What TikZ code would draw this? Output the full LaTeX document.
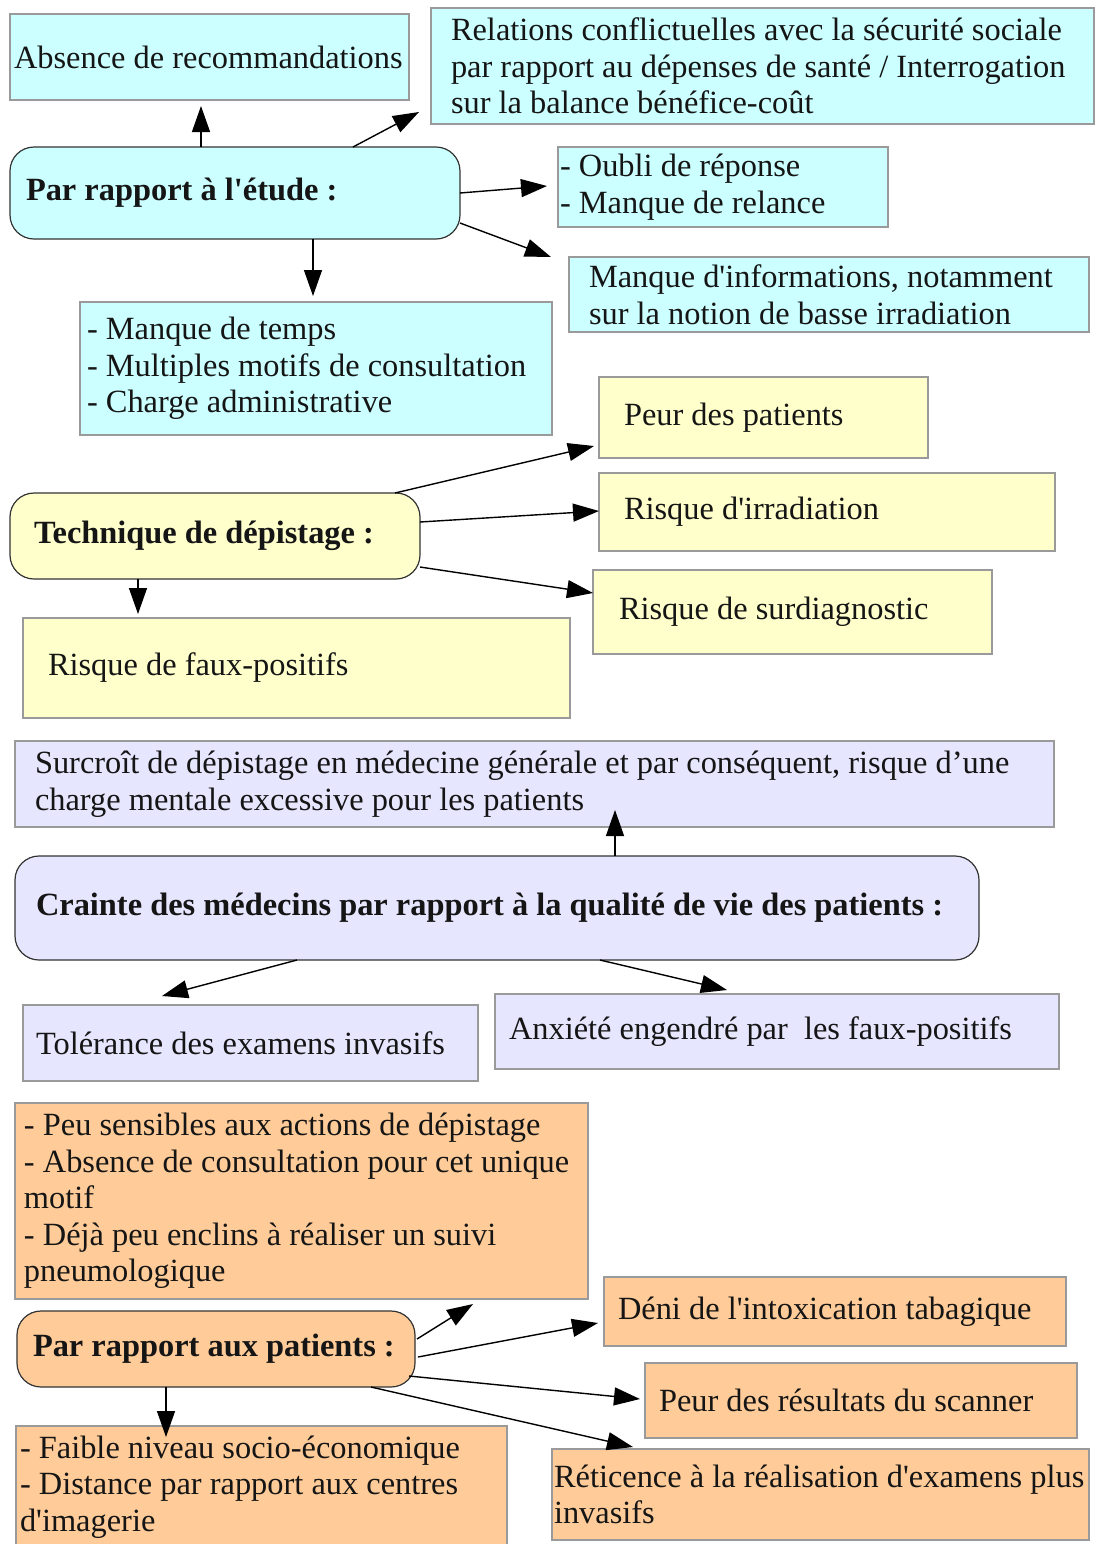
\documentclass[tikz,border=0pt]{standalone}
\usepackage{fontspec}
\setmainfont{Liberation Serif}[Ligatures=TeXOff]
\usetikzlibrary{arrows.meta}
\definecolor{cyanfill}{HTML}{CCFFFF}
\definecolor{yellowfill}{HTML}{FFFFCC}
\definecolor{lilacfill}{HTML}{E6E6FF}
\definecolor{orangefill}{HTML}{FFCC99}
\definecolor{boxline}{HTML}{9A9A9A}
\definecolor{roundline}{HTML}{333333}
\definecolor{inkc}{HTML}{151515}

\begin{document}
\begin{tikzpicture}[x=0.5pt, y=-0.5pt,
    box/.style={draw=boxline, line width=0.75pt, anchor=north west, align=flush left,
        inner ysep=2pt, outer sep=0pt, text=inkc,
        font=\fontsize{16.2}{18.3}\selectfont},
    topic/.style={box, draw=roundline, line width=0.6pt, rounded corners=12pt,
        font=\fontsize{16.2}{18.3}\selectfont\bfseries},
    arr/.style={-{Triangle[length=13pt,width=9pt]}, line width=0.7pt, black}]
    \useasboundingbox (0,0) rectangle (1096,1544);

    \node[box, fill=cyanfill, text width=195.5pt, inner xsep=2pt, minimum height=43pt] (reco) at (10,14) {Absence de recommandations};
    \node[box, fill=cyanfill, text width=311.5pt, inner xsep=10pt, minimum height=58pt] (relat) at (431,8) {Relations conflictuelles avec la sécurité sociale\\par rapport au dépenses de santé / Interrogation\\sur la balance bénéfice-coût};
    \node[topic, fill=cyanfill, text width=209pt, inner xsep=8pt, minimum height=46pt] (etude) at (10,147) {Par rapport à l'étude :};
    \node[box, fill=cyanfill, text width=163pt, inner xsep=1pt, minimum height=40pt] (oubli) at (558,147) {- Oubli de réponse\\- Manque de relance};
    \node[box, fill=cyanfill, text width=240pt, inner xsep=10pt, minimum height=37.5pt] (info) at (569,257) {Manque d'informations, notamment\\sur la notion de basse irradiation};
    \node[box, fill=cyanfill, text width=229pt, inner xsep=3.5pt, minimum height=66.5pt] (temps) at (80,302) {- Manque de temps\\- Multiples motifs de consultation\\- Charge administrative};

    \node[box, fill=yellowfill, text width=139.5pt, inner xsep=12.5pt, minimum height=40.5pt] (peurp) at (599,377) {Peur des patients};
    \node[box, fill=yellowfill, text width=203pt, inner xsep=12.5pt, minimum height=39pt] (irrad) at (599,473) {Risque d'irradiation};
    \node[topic, fill=yellowfill, text width=181pt, inner xsep=12pt, minimum height=43pt] (tech) at (10,493) {Technique de dépistage :};
    \node[box, fill=yellowfill, text width=173.5pt, inner xsep=13pt, minimum height=42pt] (surd) at (593,570) {Risque de surdiagnostic};
    \node[box, fill=yellowfill, text width=248.5pt, inner xsep=12.5pt, minimum height=50pt] (faux) at (23,618) {Risque de faux-positifs};

    \node[box, fill=lilacfill, text width=499.5pt, inner xsep=10pt, minimum height=43pt] (surcr) at (15,741) {Surcroît de dépistage en médecine générale et par conséquent, risque d’une\\charge mentale excessive pour les patients};
    \node[topic, fill=lilacfill, text width=461pt, inner xsep=10.5pt, minimum height=52pt] (craint) at (15,856) {Crainte des médecins par rapport à la qualité de vie des patients :};
    \node[box, fill=lilacfill, text width=214.5pt, inner xsep=6.5pt, minimum height=38pt] (toler) at (23,1005) {Tolérance des examens invasifs};
    \node[box, fill=lilacfill, text width=268pt, inner xsep=7pt, minimum height=37.5pt] (anxi) at (495,994) {Anxiété engendré par~ les faux-positifs};

    \node[box, fill=orangefill, text width=277.5pt, inner xsep=4.5pt, minimum height=98pt] (peus) at (15,1103) {- Peu sensibles aux actions de dépistage\\- Absence de consultation pour cet unique\\motif\\- Déjà peu enclins à réaliser un suivi\\pneumologique};
    \node[topic, fill=orangefill, text width=183pt, inner xsep=8pt, minimum height=38pt] (pat) at (17,1311) {Par rapport aux patients :};
    \node[box, fill=orangefill, text width=217pt, inner xsep=7pt, minimum height=34.5pt] (deni) at (604,1277) {Déni de l'intoxication tabagique};
    \node[box, fill=orangefill, text width=202pt, inner xsep=7pt, minimum height=37.5pt] (peurr) at (645,1363) {Peur des résultats du scanner};
    \node[box, fill=orangefill, text width=241.5pt, inner xsep=2pt, minimum height=61pt] (faible) at (16,1426) {- Faible niveau socio-économique\\- Distance par rapport aux centres\\d'imagerie};
    \node[box, fill=orangefill, text width=266.5pt, inner xsep=1pt, minimum height=45.5pt] (retic) at (552,1449) {Réticence à la réalisation d'examens plus\\invasifs};

    \draw[arr] ([xshift=-17pt]etude.north) -- ([xshift=-4.25pt,yshift=-3pt]reco.south);
    \draw[arr] ([xshift=59pt]etude.north) -- ([xshift=-6pt,yshift=6pt]relat.south west);
    \draw[arr] (etude.east) -- ([xshift=-5.5pt,yshift=0.5pt]oubli.west);
    \draw[arr] ([yshift=8pt]etude.south east) -- ([xshift=-9pt]info.north west);
    \draw[arr] ([xshift=39pt]etude.south) -- ([xshift=-1.5pt,yshift=3pt]temps.north);

    \draw[arr] ([xshift=-12.5pt]tech.north east) -- ([xshift=-2.5pt,yshift=6pt]peurp.south west);
    \draw[arr] ([yshift=7pt]tech.east) -- ([yshift=0.5pt]irrad.west);
    \draw[arr] ([yshift=-15.5pt]tech.east) -- ([yshift=9.5pt]surd.west);
    \draw[arr] ([xshift=-38.5pt]tech.south) -- ([xshift=-79.25pt,yshift=2pt]faux.north);

    \draw[arr] ([xshift=59pt]craint.north) -- ([xshift=40.25pt,yshift=8.5pt]surcr.south);
    \draw[arr] ([xshift=-100pt]craint.south) -- ([xshift=-44.25pt,yshift=4.5pt]toler.north);
    \draw[arr] ([xshift=51.5pt]craint.south) -- ([xshift=-25pt,yshift=2pt]anxi.north);

    \draw[arr] ([xshift=1pt,yshift=5pt]pat.east) -- ([xshift=-57.5pt,yshift=-2.5pt]peus.south east);
    \draw[arr] ([xshift=1.5pt,yshift=-4pt]pat.east) -- ([xshift=-3pt,yshift=-5.75pt]deni.west);
    \draw[arr] ([xshift=-3pt,yshift=5.5pt]pat.south east) -- ([xshift=-2.5pt,yshift=0.75pt]peurr.west);
    \draw[arr] ([xshift=77.5pt]pat.south) -- ([xshift=40.5pt,yshift=1pt]retic.north west);
    \draw[arr] ([xshift=-25pt]pat.south) -- ([xshift=-47.75pt,yshift=-5.5pt]faible.north);
\end{tikzpicture}
\end{document}
